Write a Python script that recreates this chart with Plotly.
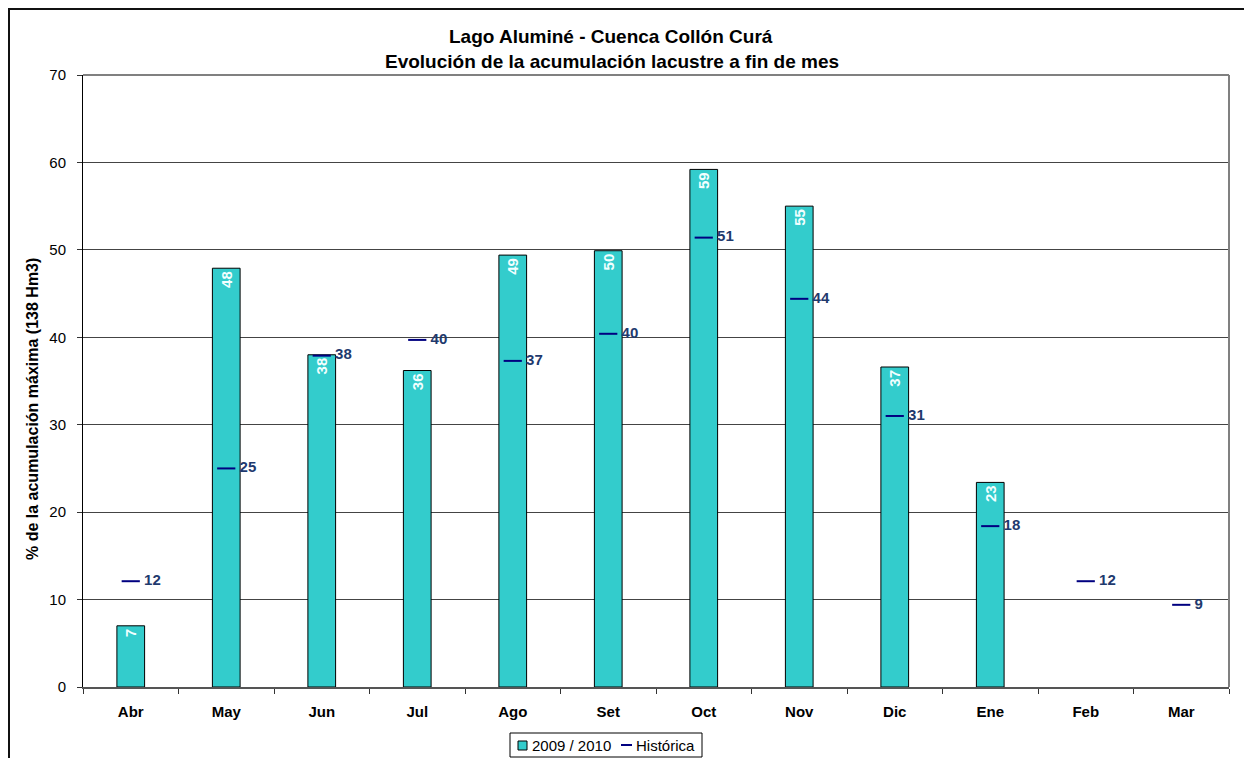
import plotly.graph_objects as go

months = ["Abr", "May", "Jun", "Jul", "Ago", "Set", "Oct", "Nov", "Dic", "Ene", "Feb", "Mar"]
actual_2009_2010 = [7.0, 47.9, 38.0, 36.2, 49.4, 49.9, 59.2, 55.0, 36.6, 23.4, None, None]
historica = [12.1, 25.0, 37.9, 39.7, 37.3, 40.4, 51.4, 44.4, 31.0, 18.4, 12.1, 9.4]
series_names = ["2009 / 2010", "Histórica"]

W, H = 1244, 758
L, R, T, B = 83, 1229, 75, 687
pw, ph = R - L, B - T

def px(x):
    return (x - L) / pw

def py(y):
    return (B - y) / ph

FONT = "Arial, Liberation Sans"
BAR_COLOR = "#33CCCC"
HIST_COLOR = "#000080"

fig = go.Figure()

fig.add_trace(go.Bar(
    x=months, y=actual_2009_2010, name=series_names[0],
    width=0.29,
    marker=dict(color=BAR_COLOR, line=dict(color="#000000", width=1)),
    text=[("%d" % round(v)) if v is not None else "" for v in actual_2009_2010],
    textposition="inside", insidetextanchor="end", textangle=-90,
    constraintext="none",
    insidetextfont=dict(family=FONT, size=15, color="#F2FFFF", weight="bold"),
    showlegend=False,
))

fig.add_trace(go.Scatter(
    x=months, y=historica, name=series_names[1],
    mode="markers+text",
    marker=dict(symbol="line-ew", size=13, line=dict(color=HIST_COLOR, width=2), color=HIST_COLOR),
    text=[" %d" % round(v) for v in historica],
    textposition="middle right",
    textfont=dict(family=FONT, size=15, color="#1F3A6E", weight="bold"),
    cliponaxis=False,
    showlegend=False,
))

# compact legend box (drawn in the bottom margin, like the original)
legend_shapes = [
    dict(type="rect", xref="paper", yref="paper",
         x0=px(510), x1=px(702), y0=py(757), y1=py(733),
         line=dict(color="#000000", width=1), fillcolor="white"),
    dict(type="rect", xref="paper", yref="paper",
         x0=px(518), x1=px(527), y0=py(750), y1=py(741),
         line=dict(color="#000000", width=1), fillcolor=BAR_COLOR),
    dict(type="line", xref="paper", yref="paper",
         x0=px(621), x1=px(632), y0=py(745), y1=py(745),
         line=dict(color=HIST_COLOR, width=2)),
]
legend_annots = [
    dict(text=series_names[0], xref="paper", yref="paper", x=px(530), y=py(745),
         xanchor="left", yanchor="middle", showarrow=False,
         font=dict(family=FONT, size=15, color="#000000")),
    dict(text=series_names[1], xref="paper", yref="paper", x=px(634), y=py(745),
         xanchor="left", yanchor="middle", showarrow=False,
         font=dict(family=FONT, size=15, color="#000000")),
]

fig.update_layout(
    width=W, height=H,
    margin=dict(l=L, r=W - R, t=T, b=H - B, pad=0, autoexpand=False),
    paper_bgcolor="white", plot_bgcolor="white",
    font=dict(family=FONT, size=15, color="#000000"),
    bargap=0.71,
    showlegend=False,
    xaxis=dict(
        type="category", showgrid=False, showline=True, linecolor="#555555", linewidth=2,
        ticks="outside", tickson="boundaries", ticklen=5, tickcolor="#333333",
        tickfont=dict(family=FONT, size=15, color="#000000", weight="bold"),
        ticklabelstandoff=10,
        range=[-0.5, 11.5],
    ),
    yaxis=dict(
        range=[0, 70], dtick=10, showgrid=True, gridcolor="#444444", gridwidth=1,
        showline=True, linecolor="#000000", linewidth=1,
        ticks="outside", ticklen=5, tickcolor="#333333",
        tickfont=dict(family=FONT, size=15, color="#000000"),
        ticklabelstandoff=8,
        zeroline=False,
    ),
    shapes=[
        dict(type="line", xref="paper", yref="paper", x0=0, x1=1, y0=1, y1=1,
             line=dict(color="#808080", width=2)),
        dict(type="line", xref="paper", yref="paper", x0=1, x1=1, y0=0, y1=1,
             line=dict(color="#808080", width=2)),
        dict(type="rect", xref="paper", yref="paper",
             x0=px(9), x1=px(1252), y0=py(770), y1=py(9),
             line=dict(color="#111111", width=2), layer="above"),
    ] + legend_shapes,
    annotations=[
        dict(text="<b>Lago Aluminé - Cuenca Collón Curá</b>", xref="paper", yref="paper",
             x=px(611), y=py(36), xanchor="center", yanchor="middle", showarrow=False,
             font=dict(family=FONT, size=19, color="#000000")),
        dict(text="<b>Evolución de la acumulación lacustre a fin de mes</b>", xref="paper", yref="paper",
             x=px(612), y=py(61), xanchor="center", yanchor="middle", showarrow=False,
             font=dict(family=FONT, size=19, color="#000000")),
        dict(text="<b>% de la acumulación máxima (138 Hm3)</b>", xref="paper", yref="paper",
             x=px(32), y=py(409), xanchor="center", yanchor="middle", showarrow=False,
             textangle=-90,
             font=dict(family=FONT, size=16, color="#000000")),
    ] + legend_annots,
)

fig.write_html("out.html")
